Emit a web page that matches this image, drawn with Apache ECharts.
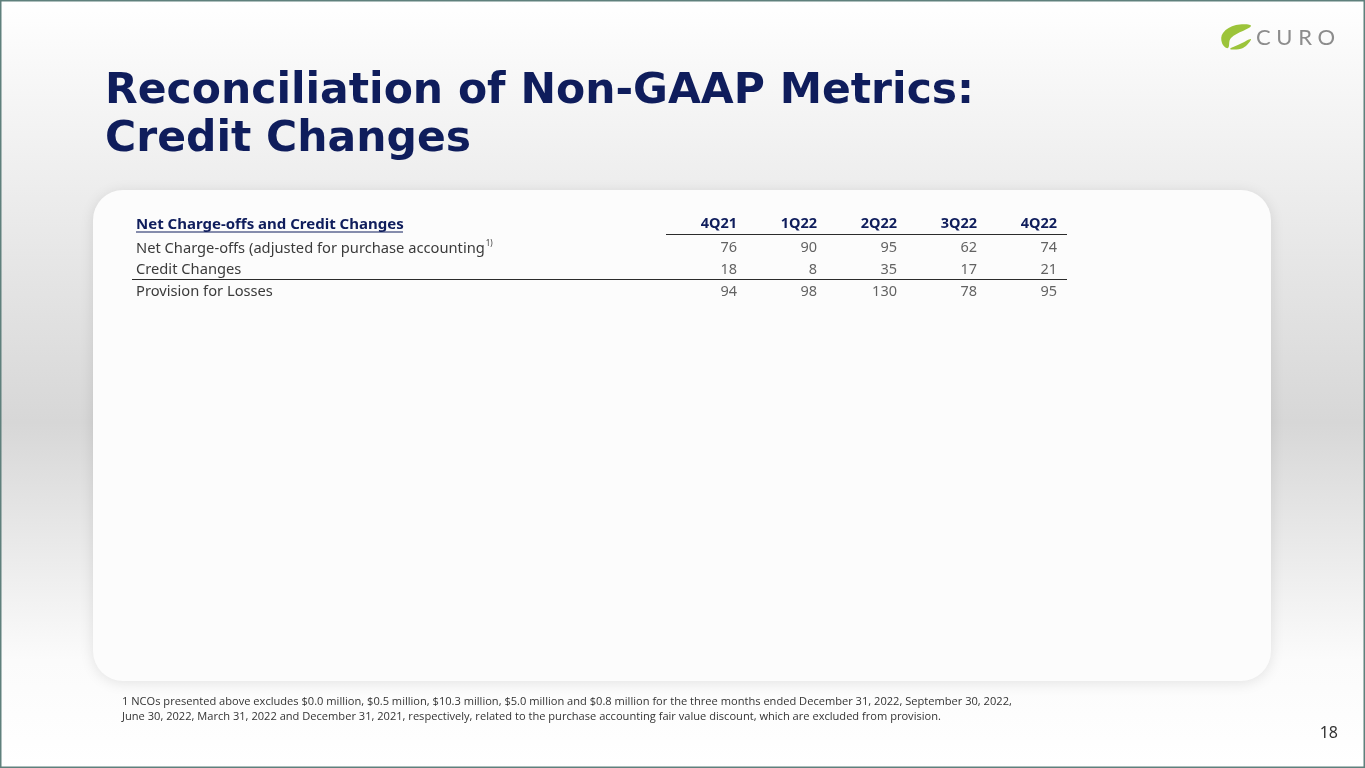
<!DOCTYPE html>
<html>
<head>
    <meta charset="UTF-8">
    <title>Reconciliation of Non-GAAP Metrics: Credit Changes</title>
    <script src="https://cdn.jsdelivr.net/npm/echarts@6/dist/echarts.min.js"></script>
    <style>
        html, body { margin: 0; padding: 0; }
        #main { width: 1365px; height: 768px; }
    </style>
</head>
<body>
<div id="main"></div>
<script>
    // table data
    var quarters = ['4Q21', '1Q22', '2Q22', '3Q22', '4Q22'];
    var rowLabels = ['Net Charge-offs (adjusted for purchase accounting', 'Credit Changes', 'Provision for Losses'];
    var netChargeOffs = [76, 90, 95, 62, 74];
    var creditChanges = [18, 8, 35, 17, 21];
    var provisionForLosses = [94, 98, 130, 78, 95];

    var headerTitle = 'Net Charge-offs and Credit Changes';
    var footnote = [
        '1 NCOs presented above excludes $0.0 million, $0.5 million, $10.3 million, $5.0 million and $0.8 million for the three months ended December 31, 2022, September 30, 2022,',
        'June 30, 2022, March 31, 2022 and December 31, 2021, respectively, related to the purchase accounting fair value discount, which are excluded from provision.'
    ];

    var navy = '#0f1d5c';
    var bodyText = '#3b3b3b';
    var bodyFont = '"Noto Sans", sans-serif';

    var rows = [netChargeOffs, creditChanges, provisionForLosses];
    var cells = [];
    rows.forEach(function (vals, r) {
        vals.forEach(function (v, c) {
            cells.push([c, r, v]);
        });
    });

    var chart = echarts.init(document.getElementById('main'));

    var option = {
        backgroundColor: {
            type: 'linear', x: 0, y: 0, x2: 0, y2: 1,
            colorStops: [
                {offset: 0, color: '#ffffff'},
                {offset: 0.12, color: '#f6f6f6'},
                {offset: 0.55, color: '#d7d7d7'},
                {offset: 0.86, color: '#fbfbfb'},
                {offset: 1, color: '#ffffff'}
            ]
        },
        animation: false,
        title: {
            text: 'Reconciliation of Non-GAAP Metrics:\nCredit Changes',
            left: 100,
            top: 63,
            textStyle: {
                fontFamily: '"DejaVu Sans", sans-serif',
                fontWeight: 'bold',
                fontSize: 42.5,
                lineHeight: 48,
                color: navy
            }
        },
        grid: {
            left: 697,
            top: 237.5,
            width: 400,
            height: 65
        },
        xAxis: {
            type: 'category',
            position: 'top',
            data: quarters,
            axisLine: {show: false},
            axisTick: {show: false},
            splitLine: {show: false},
            axisLabel: {
                align: 'right',
                margin: 6.5,
                fontFamily: bodyFont,
                fontWeight: 'bold',
                fontSize: 14.5,
                color: navy
            }
        },
        yAxis: {
            type: 'category',
            inverse: true,
            data: rowLabels,
            axisLine: {show: false},
            axisTick: {show: false},
            splitLine: {show: false},
            axisLabel: {
                align: 'left',
                margin: 561,
                fontFamily: bodyFont,
                fontSize: 14.7,
                color: bodyText,
                formatter: function (val, idx) {
                    return idx === 0 ? val + '{sup|1)}' : val;
                },
                rich: {
                    sup: {
                        fontFamily: bodyFont,
                        fontSize: 8,
                        color: bodyText,
                        padding: [0, 0, 9, 1]
                    }
                }
            }
        },
        series: [
            {
                type: 'scatter',
                symbolSize: 0,
                data: cells,
                label: {
                    show: true,
                    position: 'left',
                    distance: 0,
                    fontFamily: bodyFont,
                    fontSize: 14.5,
                    color: bodyText,
                    formatter: function (p) {
                        return String(p.value[2]);
                    }
                }
            }
        ],
        graphic: [
            // outer frame
            {
                type: 'rect', z: 100, silent: true,
                shape: {x: 0.5, y: 0.5, width: 1364, height: 767},
                style: {fill: 'none', stroke: '#5f807c', lineWidth: 2}
            },
            // white card
            {
                type: 'rect', z: -10, silent: true,
                shape: {x: 93, y: 190, width: 1178, height: 491, r: 30},
                style: {
                    fill: '#fcfcfc',
                    shadowBlur: 14,
                    shadowColor: 'rgba(0,0,0,0.10)',
                    shadowOffsetY: 2
                }
            },
            // table header
            {
                type: 'text', silent: true,
                style: {
                    x: 136, y: 224.5, text: headerTitle,
                    verticalAlign: 'middle',
                    font: 'bold 15px ' + bodyFont,
                    fill: navy
                }
            },
            {
                type: 'line', silent: true,
                shape: {x1: 136, y1: 232, x2: 403, y2: 232},
                style: {stroke: navy, lineWidth: 1}
            },
            {
                type: 'line', silent: true,
                shape: {x1: 666, y1: 234.5, x2: 1067, y2: 234.5},
                style: {stroke: '#2b2b2b', lineWidth: 1.2}
            },
            {
                type: 'line', silent: true,
                shape: {x1: 132, y1: 279.5, x2: 1067, y2: 279.5},
                style: {stroke: '#2b2b2b', lineWidth: 1.2}
            },
            // footnote
            {
                type: 'text', silent: true,
                style: {
                    x: 122, y: 702, text: footnote[0],
                    verticalAlign: 'middle',
                    font: '11.1px "Open Sans", sans-serif',
                    fill: '#333333'
                }
            },
            {
                type: 'text', silent: true,
                style: {
                    x: 122, y: 717, text: footnote[1],
                    verticalAlign: 'middle',
                    font: '11.1px "Open Sans", sans-serif',
                    fill: '#333333'
                }
            },
            // page number
            {
                type: 'text', silent: true,
                style: {
                    x: 1338, y: 733, text: '18',
                    align: 'right', verticalAlign: 'middle',
                    font: '16px ' + bodyFont,
                    fill: '#333333'
                }
            },
            // logo swoosh
            {
                type: 'polygon', silent: true,
                shape: {
                    points: [[1251, 26], [1236, 25], [1223, 33], [1222, 43], [1228, 48], [1231, 38]],
                    smooth: 0.4
                },
                style: {fill: '#9cc43a'}
            },
            {
                type: 'polygon', silent: true,
                shape: {
                    points: [[1251, 39], [1243, 48], [1230, 49], [1240, 44]],
                    smooth: 0.4
                },
                style: {fill: '#9cc43a'}
            },
            {
                type: 'text', silent: true,
                style: {
                    x: 1256, y: 38, text: 'C U R O',
                    verticalAlign: 'middle',
                    font: '22px Lato, sans-serif',
                    fill: '#8c8c8c'
                }
            }
        ]
    };

    chart.setOption(option);
</script>
</body>
</html>
